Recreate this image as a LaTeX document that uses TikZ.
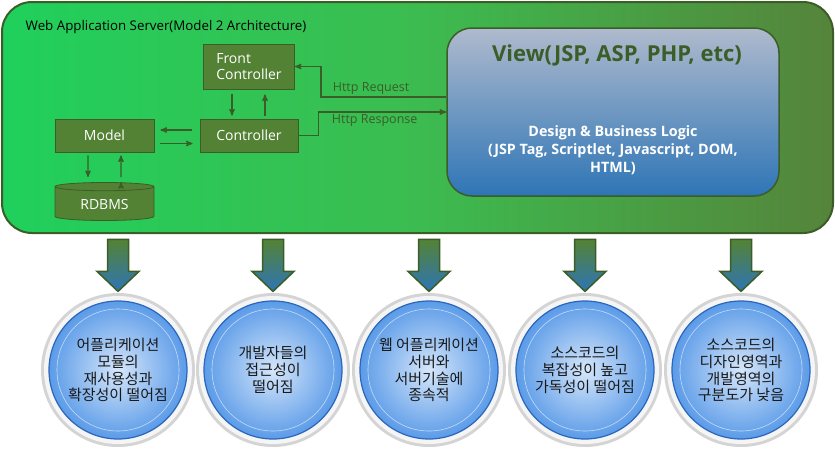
\documentclass[tikz,border=0pt]{standalone}
\usepackage{fontspec}
\setmainfont{Open Sans}
\newfontfamily\kr{Noto Sans CJK KR}
\usetikzlibrary{arrows,shapes.geometric}
\definecolor{darkgreen}{HTML}{3B5D27}
\definecolor{boxgreen}{HTML}{548235}
\definecolor{srvleft}{HTML}{20D05C}
\definecolor{srvmid}{HTML}{3CBC50}
\definecolor{srvright}{HTML}{55843A}
\definecolor{viewtop}{HTML}{AFBACD}
\definecolor{viewbot}{HTML}{2E75B6}
\definecolor{circin}{HTML}{D5E6FA}
\definecolor{circout}{HTML}{5B9BE8}
\definecolor{circedge}{HTML}{2C66BA}

\begin{document}
\begin{tikzpicture}[x=1pt,y=-1pt,>=stealth',thick,
    server node/.style={rectangle,rounded corners=30pt,draw=darkgreen,line width=2pt,
        left color=srvleft,right color=srvright,middle color=srvmid,
        minimum width=831pt,minimum height=231pt},
    main node/.style={rectangle,fill=boxgreen,draw=darkgreen,text=white,
        font=\fontsize{14}{16}\selectfont},
    view node/.style={rectangle,rounded corners=25pt,draw=darkgreen,line width=1.5pt,
        top color=viewtop,bottom color=viewbot,minimum width=332pt,minimum height=168pt},
    issue node/.style={circle,minimum size=138pt,draw=circedge,line width=1.2pt,
        inner color=circin,outer color=circout,preaction={draw=black!17,line width=16pt},
        preaction={draw=black!4,line width=10pt},align=center,text=black!90,
        font=\kr\fontsize{15}{16.8}\selectfont},
    link/.style={->,draw=darkgreen,line width=1.3pt},
    link label/.style={text=darkgreen,font=\fontsize{12.5}{14}\selectfont,inner sep=2pt}]

  \useasboundingbox (0,0) rectangle (835,458);

  \node[server node] (server) at (417.5,117.5) {};
  \node[anchor=base west,font=\fontsize{13.3}{15}\selectfont] (title) at (22,30)
    {Web Application Server(Model 2 Architecture)};

  \node[main node,minimum width=98pt,minimum height=33pt] (ctrl) at (249,135.5) {Controller};
  \node[main node,minimum width=91pt,minimum height=45pt,align=left] (fc)
    [node distance=69pt, above of=ctrl] {Front\\Controller};
  \node[main node,minimum width=99pt,minimum height=33pt] (model)
    [node distance=144.5pt, left of=ctrl] {Model};
  \node[main node,cylinder,shape border rotate=90,aspect=0.15,minimum width=99pt,
    minimum height=38pt] (db) [node distance=69pt, below of=model] {RDBMS};

  \node[view node] (view) at (613,112) {};
  \node[text=darkgreen,font=\bfseries\fontsize{22}{26}\selectfont] (viewtitle) at (617,55)
    {View(JSP, ASP, PHP, etc)};
  \node[align=center,text=white,font=\bfseries\fontsize{14.3}{18}\selectfont] (viewtext) at (613,150)
    {Design \& Business Logic\\(JSP Tag, Scriptlet, Javascript, DOM,\\HTML)};

  \path[link]
  ([xshift=-17pt]fc.south) edge[shorten <=5pt,shorten >=3pt] ([xshift=-17pt]ctrl.north)
  ([xshift=16pt]ctrl.north) edge[shorten <=3pt,shorten >=5pt] ([xshift=16pt]fc.south)
  ([yshift=5.5pt]ctrl.west) edge[shorten <=8pt,shorten >=6pt] ([yshift=5.5pt]model.east)
  ([yshift=-8pt]model.east) edge[shorten <=6pt,shorten >=7pt] ([yshift=-8pt]ctrl.west)
  ([xshift=-16.5pt]model.south) edge[shorten <=3pt,shorten >=5pt] ([xshift=-16.5pt]db.north)
  ([xshift=16.5pt]db.north) edge[shorten <=5pt,shorten >=3pt] ([xshift=16.5pt]model.south)
  ;

  \draw[link] ([yshift=15pt]view.west) -| ([xshift=26pt]fc.east)
    node[link label,pos=0.3,above] {Http Request} -- (fc.east);
  \draw[link] (ctrl.east) -- ++(20,0) |- node[link label,pos=0.72,below] {Http Response} (view.west);

  \foreach \x/\txt [count=\i] in {118/{어플리케이션\\모듈의\\재사용성과\\확장성이 떨어짐},
      273/{개발자들의\\접근성이\\떨어짐},
      429/{웹 어플리케이션\\서버와\\서버기술에\\종속적},
      585/{소스코드의\\복잡성이 높고\\가독성이 떨어짐},
      741/{소스코드의\\디자인영역과\\개발영역의\\구분도가 낮음}} {
    \node[issue node] (c\i) at (\x,370) {\txt};
    \draw[white,opacity=.6,line width=.6pt] (c\i.center) circle (61pt);
    \shade[top color=boxgreen,bottom color=viewbot,draw=darkgreen,line width=1.5pt,
      shift={(c\i.north)}] (-10.5,-61) -- (10.5,-61) -- (10.5,-29) -- (21,-29)
      -- (0,-9) -- (-21,-29) -- (-10.5,-29) -- cycle;
  }
\end{tikzpicture}
\end{document}
